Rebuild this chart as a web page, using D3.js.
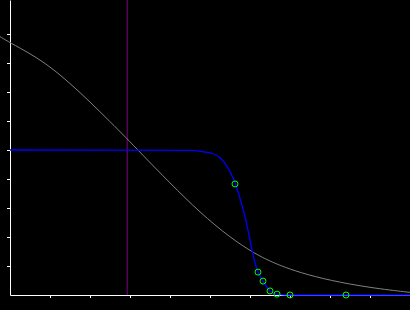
<!DOCTYPE html>
<html>
<head>
<meta charset="utf-8">
<script src="https://cdn.jsdelivr.net/npm/d3@7"></script>
<style>
  body { margin: 0; background: #000; }
  svg { display: block; background: #000; }
  .axis path, .axis line { stroke: #fff; }
</style>
</head>
<body>
<div id="chart"></div>
<script>
// gray reference curve
var grayX = [-0.25, 0, 0.5, 1.0, 1.5, 2.0, 2.5, 2.92, 3.25, 4.0, 4.75, 5.5, 6.125, 6.5, 6.75, 7.25, 8.0, 9.0, 10]
var grayY = [8.91, 8.70, 8.33, 7.88, 7.30, 6.66, 5.98, 5.40, 4.92, 3.86, 2.84, 1.98, 1.42, 1.17, 1.02, 0.77, 0.50, 0.25, 0.09]

// blue fitted line
var blueX = [0, 4.54, 4.83, 5.08, 5.25, 5.375, 5.5, 5.625, 5.75, 5.875, 5.975, 6.06, 6.2, 6.325, 6.5, 6.675, 7.0, 10]
var blueY = [5, 4.99, 4.94, 4.87, 4.73, 4.54, 4.25, 3.88, 3.33, 2.70, 2.07, 1.48, 0.79, 0.48, 0.14, 0.03, 0, 0]

// green sample points
var ptX = [5.625, 6.2, 6.325, 6.5, 6.675, 7.0, 8.4]
var ptY = [3.83, 0.79, 0.48, 0.14, 0.03, 0, 0]

var markerX = 2.93
var xTicks = [1, 2, 3, 4, 5, 6, 7, 8, 9, 10]
var yTicks = [1, 2, 3, 4, 5, 6, 7, 8, 9]

var width = 410, height = 310
var margin = {left: 10, bottom: 15}

var svg = d3.select("#chart").append("svg")
    .attr("width", width)
    .attr("height", height)

var x = d3.scaleLinear().domain([0, 10]).range([margin.left, width])
var y = d3.scaleLinear().domain([0, 295 / 29]).range([height - margin.bottom, 0])

svg.append("g")
   .attr("class", "axis")
   .attr("transform", "translate(0," + (height - margin.bottom) + ")")
   .call(d3.axisBottom(x).tickValues(xTicks).tickSize(3).tickSizeOuter(0).tickFormat(""))

svg.append("g")
   .attr("class", "axis")
   .attr("transform", "translate(" + margin.left + ",0)")
   .call(d3.axisLeft(y).tickValues(yTicks).tickSize(3).tickSizeOuter(0).tickFormat(""))

// vertical marker
svg.append("line")
   .attr("x1", x(markerX)).attr("x2", x(markerX))
   .attr("y1", y(295 / 29)).attr("y2", y(0))
   .attr("stroke", "#800080")
   .attr("stroke-width", 1)

var grayData = grayX.map((d, i) => [d, grayY[i]])
var blueData = blueX.map((d, i) => [d, blueY[i]])
var pts = ptX.map((d, i) => [d, ptY[i]])

var grayLine = d3.line()
    .x(d => x(d[0]))
    .y(d => y(d[1]))
    .curve(d3.curveBasis)

var blueLine = d3.line()
    .x(d => x(d[0]))
    .y(d => y(d[1]))
    .curve(d3.curveMonotoneX)

svg.append("path")
   .datum(grayData)
   .attr("d", grayLine)
   .attr("fill", "none")
   .attr("stroke", "#808080")
   .attr("stroke-width", 1)

svg.append("path")
   .datum(blueData)
   .attr("d", blueLine)
   .attr("fill", "none")
   .attr("stroke", "#0000ff")
   .attr("stroke-width", 1.3)

svg.selectAll(".pt")
   .data(pts)
   .enter()
   .append("circle")
   .attr("class", "pt")
   .attr("cx", d => x(d[0]))
   .attr("cy", d => y(d[1]))
   .attr("r", 3)
   .attr("fill", "none")
   .attr("stroke", "#00ff00")
   .attr("stroke-width", 1)
</script>
</body>
</html>
